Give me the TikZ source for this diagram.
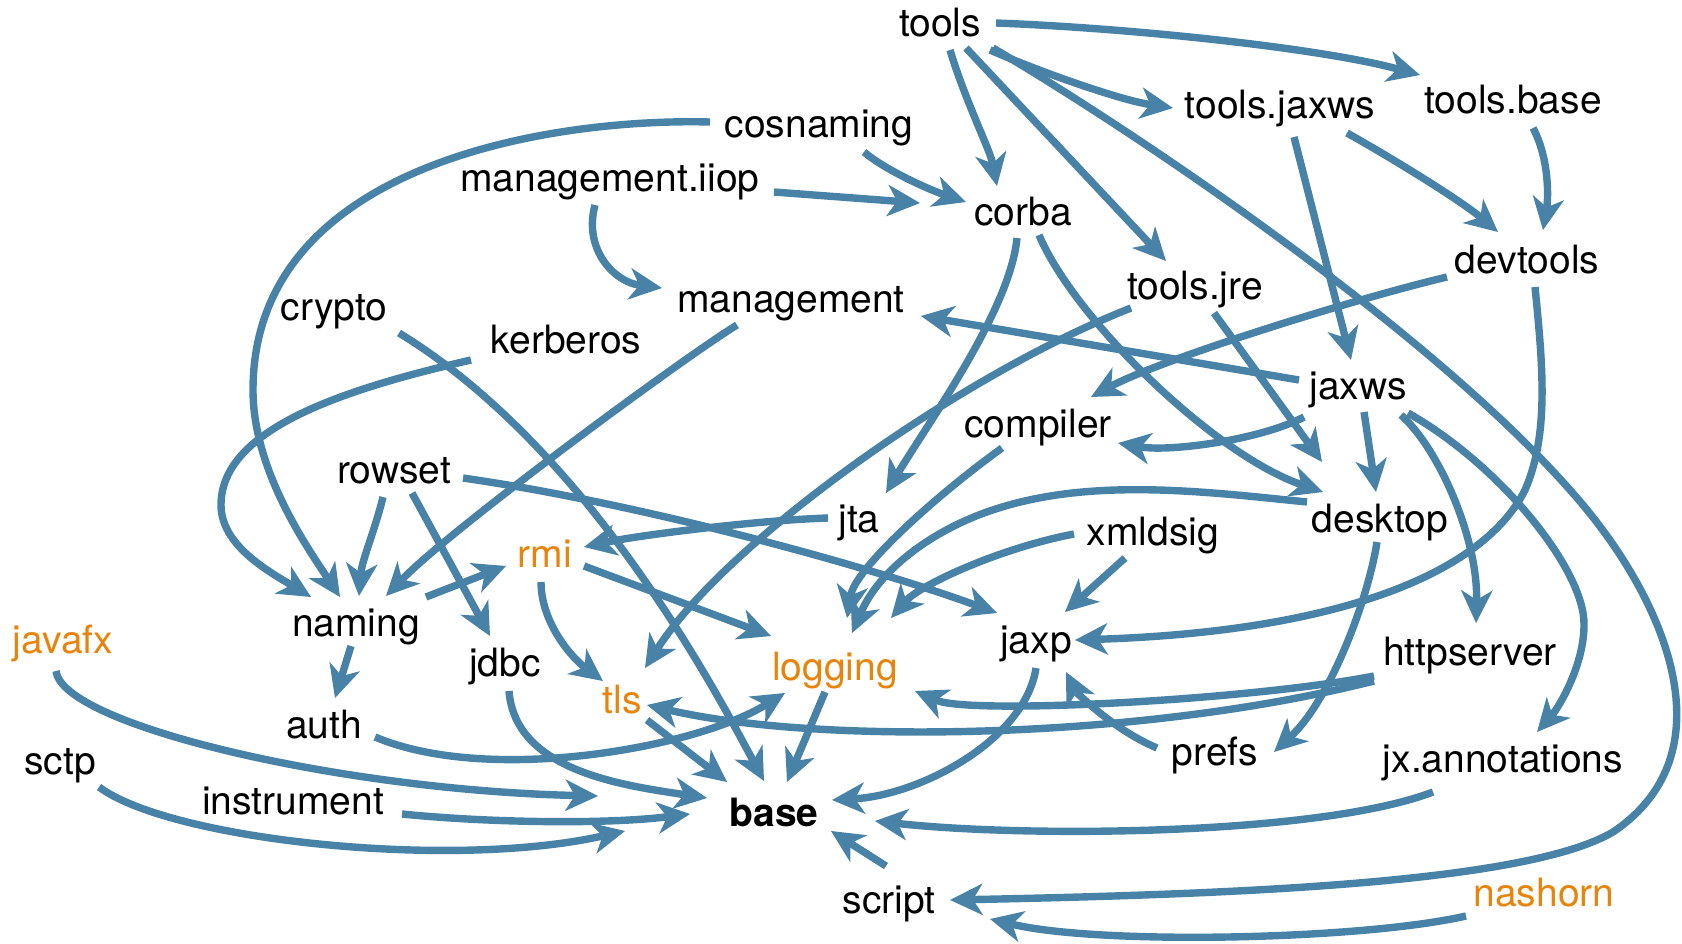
\documentclass[tikz,border=0pt]{standalone}
\usepackage{fontspec}
\setmainfont{TeX Gyre Heros}
\usetikzlibrary{arrows.meta}
\definecolor{edgeblue}{RGB}{72,130,167}
\definecolor{pkgorange}{RGB}{232,132,12}
\begin{document}
\begin{tikzpicture}[x=1pt,y=-1pt,
  lbl/.style={anchor=base, inner sep=0pt, font=\fontsize{39}{47}\selectfont},
  hl/.style={text=pkgorange},
  bold/.style={font=\fontsize{39}{47}\selectfont\bfseries},
  edge/.style={draw=edgeblue, line width=7.4pt,
    -{Stealth[length=33pt,width=32pt,inset=10pt,line width=0pt]}},
]
\useasboundingbox (0,0) rectangle (1682,943);
% nodes
\node[lbl] (tools) at (940,36) {tools};
\node[lbl] (toolsbase) at (1513,113) {tools.base};
\node[lbl] (toolsjaxws) at (1280,118) {tools.jaxws};
\node[lbl] (cosnaming) at (819,137) {cosnaming};
\node[lbl] (mgmtiiop) at (610,191) {management.iiop};
\node[lbl] (corba) at (1023,225) {corba};
\node[lbl] (devtools) at (1527,273) {devtools};
\node[lbl] (toolsjre) at (1195,299) {tools.jre};
\node[lbl] (management) at (791,312) {management};
\node[lbl] (crypto) at (334,320) {crypto};
\node[lbl] (kerberos) at (566,353) {kerberos};
\node[lbl] (jaxws) at (1358,399) {jaxws};
\node[lbl] (compiler) at (1038,437) {compiler};
\node[lbl] (rowset) at (394,483) {rowset};
\node[lbl] (jta) at (859,532) {jta};
\node[lbl] (desktop) at (1380,532) {desktop};
\node[lbl] (xmldsig) at (1153,545) {xmldsig};
\node[lbl,hl] (rmi) at (545,567) {rmi};
\node[lbl] (naming) at (356,636) {naming};
\node[lbl,hl] (javafx) at (63,653) {javafx};
\node[lbl] (jaxp) at (1036,653) {jaxp};
\node[lbl] (httpserver) at (1470,665) {httpserver};
\node[lbl] (jdbc) at (505,676) {jdbc};
\node[lbl,hl] (logging) at (835,680) {logging};
\node[lbl,hl] (tls) at (622,713) {tls};
\node[lbl] (auth) at (324,738) {auth};
\node[lbl] (prefs) at (1215,765) {prefs};
\node[lbl] (jxann) at (1503,772) {jx.annotations};
\node[lbl] (sctp) at (60,774) {sctp};
\node[lbl] (instrument) at (293,814) {instrument};
\node[lbl,bold] (base) at (774,826) {base};
\node[lbl] (script) at (889,913) {script};
\node[lbl,hl] (nashorn) at (1544,906) {nashorn};
% edges
\draw[edge] ([shift={(56,-13)}]tools.base) .. controls (1130,28) and (1320,48) .. ([shift={(-93,-38)}]toolsbase.base);
\draw[edge] ([shift={(50,14)}]tools.base) .. controls (1040,72) and (1120,100) .. ([shift={(-107,-10)}]toolsjaxws.base);
\draw[edge] ([shift={(10,14)}]tools.base) .. controls (965,100) and (990,150) .. ([shift={(-26,-39)}]corba.base);
\draw[edge] ([shift={(26,12)}]tools.base) -- ([shift={(-29,-38)}]toolsjre.base);
\draw[edge] ([shift={(53,12)}]tools.base) .. controls (1165,150) and (1438,340) .. (1570,490) .. controls (1660,590) and (1735,750) .. (1613,832) .. controls (1528,882) and (1250,894) .. ([shift={(61,-13)}]script.base);
\draw[edge] ([shift={(-109,-15)}]cosnaming.base) .. controls (560,118) and (253,160) .. (253,390) .. controls (253,470) and (307,547) .. ([shift={(-16,-39)}]naming.base);
\draw[edge] ([shift={(45,15)}]cosnaming.base) .. controls (885,170) and (930,190) .. ([shift={(-57,-23)}]corba.base);
\draw[edge] ([shift={(164,1)}]mgmtiiop.base) -- ([shift={(-103,-22)}]corba.base);
\draw[edge] ([shift={(-15,14)}]mgmtiiop.base) .. controls (583,250) and (615,282) .. ([shift={(-129,-24)}]management.base);
\draw[edge] ([shift={(-6,13)}]corba.base) .. controls (1010,310) and (930,420) .. ([shift={(27,-39)}]jta.base);
\draw[edge] ([shift={(16,10)}]corba.base) .. controls (1075,320) and (1215,455) .. ([shift={(-57,-40)}]desktop.base);
\draw[edge] ([shift={(14,19)}]toolsjaxws.base) -- ([shift={(-7,-39)}]jaxws.base);
\draw[edge] ([shift={(67,15)}]toolsjaxws.base) .. controls (1390,157) and (1460,200) .. ([shift={(-29,-41)}]devtools.base);
\draw[edge] ([shift={(20,15)}]toolsbase.base) .. controls (1550,160) and (1548,200) .. ([shift={(16,-43)}]devtools.base);
\draw[edge] ([shift={(-80,4)}]devtools.base) .. controls (1350,300) and (1160,360) .. ([shift={(53,-40)}]compiler.base);
\draw[edge] ([shift={(8,14)}]devtools.base) .. controls (1543,367) and (1549,435) .. (1525,490) .. controls (1480,579) and (1325,632) .. ([shift={(39,-13)}]jaxp.base);
\draw[edge] ([shift={(-64,9)}]toolsjre.base) .. controls (960,375) and (726,542) .. ([shift={(23,-45)}]tls.base);
\draw[edge] ([shift={(19,14)}]toolsjre.base) -- ([shift={(-58,-70)}]desktop.base);
\draw[edge] ([shift={(-54,13)}]management.base) .. controls (680,360) and (450,530) .. ([shift={(30,-40)}]naming.base);
\draw[edge] ([shift={(-59,-19)}]jaxws.base) -- ([shift={(130,4)}]management.base);
\draw[edge] ([shift={(-54,18)}]jaxws.base) .. controls (1260,440) and (1170,452) .. ([shift={(80,6)}]compiler.base);
\draw[edge] ([shift={(6,13)}]jaxws.base) -- ([shift={(-4,-40)}]desktop.base);
\draw[edge] ([shift={(43,16)}]jaxws.base) .. controls (1440,450) and (1478,540) .. ([shift={(6,-42)}]httpserver.base);
\draw[edge] ([shift={(50,14)}]jaxws.base) .. controls (1500,465) and (1585,570) .. (1584,625) .. controls (1584,665) and (1559,707) .. ([shift={(34,-40)}]jxann.base);
\draw[edge] ([shift={(65,13)}]crypto.base) .. controls (586,447) and (712,684) .. ([shift={(-10,-45)}]base.base);
\draw[edge] ([shift={(-95,7)}]kerberos.base) .. controls (340,390) and (221,430) .. (221,505) .. controls (221,545) and (268,571) .. ([shift={(-45,-39)}]naming.base);
\draw[edge] ([shift={(-11,14)}]rowset.base) .. controls (375,530) and (362,560) .. ([shift={(3,-40)}]naming.base);
\draw[edge] ([shift={(18,10)}]rowset.base) -- ([shift={(-15,-40)}]jdbc.base);
\draw[edge] ([shift={(69,-5)}]rowset.base) .. controls (650,505) and (880,570) .. ([shift={(-39,-40)}]jaxp.base);
\draw[edge] ([shift={(70,-39)}]naming.base) -- ([shift={(-39,-1)}]rmi.base);
\draw[edge] ([shift={(-5,10)}]naming.base) -- ([shift={(11,-40)}]auth.base);
\draw[edge] ([shift={(-31,-14)}]jta.base) .. controls (760,520) and (640,535) .. ([shift={(39,-20)}]rmi.base);
\draw[edge] ([shift={(-4,15)}]rmi.base) .. controls (541,622) and (571,657) .. ([shift={(-19,-32)}]tls.base);
\draw[edge] ([shift={(39,-1)}]rmi.base) -- ([shift={(-64,-44)}]logging.base);
\draw[edge] ([shift={(-36,11)}]compiler.base) .. controls (930,500) and (855,570) .. ([shift={(12,-62)}]logging.base);
\draw[edge] ([shift={(-73,-30)}]desktop.base) .. controls (1208,492) and (1098,478) .. (1002,507) .. controls (935,527) and (880,569) .. ([shift={(17,-47)}]logging.base);
\draw[edge] ([shift={(-79,-11)}]xmldsig.base) .. controls (1000,548) and (920,585) .. ([shift={(56,-62)}]logging.base);
\draw[edge] ([shift={(-28,13)}]xmldsig.base) -- ([shift={(29,-41)}]jaxp.base);
\draw[edge] ([shift={(-3,10)}]desktop.base) .. controls (1368,600) and (1330,700) .. ([shift={(59,-13)}]prefs.base);
\draw[edge] ([shift={(0,15)}]jaxp.base) .. controls (1025,740) and (920,795) .. ([shift={(58,-26)}]base.base);
\draw[edge] ([shift={(-70,20)}]jxann.base) .. controls (1320,835) and (1030,838) .. ([shift={(101,-5)}]base.base);
\draw[edge] ([shift={(-3,-47)}]script.base) -- ([shift={(57,5)}]base.base);
\draw[edge] ([shift={(-78,10)}]nashorn.base) .. controls (1360,940) and (1100,945) .. ([shift={(101,6)}]script.base);
\draw[edge] ([shift={(-96,11)}]httpserver.base) .. controls (1250,700) and (970,715) .. ([shift={(80,11)}]logging.base);
\draw[edge] ([shift={(-96,16)}]httpserver.base) .. controls (1140,740) and (820,745) .. ([shift={(25,-8)}]tls.base);
\draw[edge] ([shift={(-58,-17)}]prefs.base) .. controls (1110,728) and (1075,690) .. ([shift={(30,19)}]jaxp.base);
\draw[edge] ([shift={(51,-1)}]auth.base) .. controls (489,785) and (695,748) .. ([shift={(-50,13)}]logging.base);
\draw[edge] ([shift={(-7,18)}]javafx.base) .. controls (62,725) and (340,790) .. ([shift={(-176,-30)}]base.base);
\draw[edge] ([shift={(109,0)}]instrument.base) .. controls (480,822) and (600,825) .. ([shift={(-84,-12)}]base.base);
\draw[edge] ([shift={(39,13)}]sctp.base) .. controls (170,840) and (450,870) .. ([shift={(-149,5)}]base.base);
\draw[edge] ([shift={(4,15)}]jdbc.base) .. controls (515,770) and (620,785) .. ([shift={(-67,-28)}]base.base);
\draw[edge] ([shift={(25,7)}]tls.base) -- ([shift={(-47,-44)}]base.base);
\draw[edge] ([shift={(-10,12)}]logging.base) -- ([shift={(13,-44)}]base.base);
\end{tikzpicture}
\end{document}
